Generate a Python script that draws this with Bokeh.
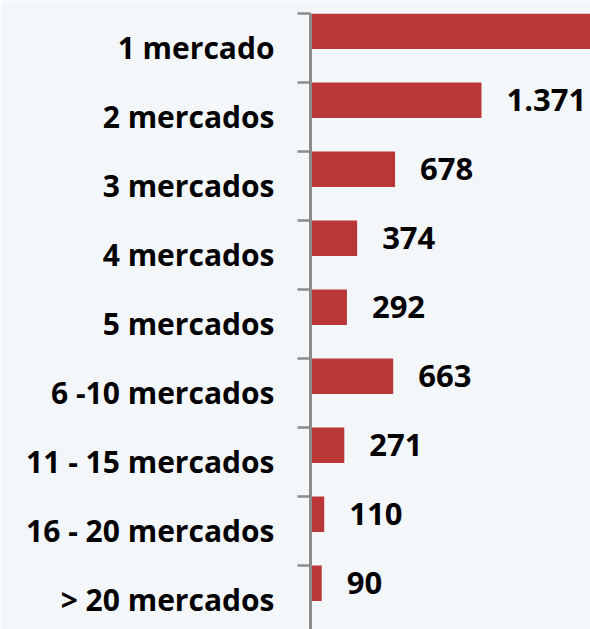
from bokeh.plotting import figure
from bokeh.models import Range1d, FixedTicker, ColumnDataSource
from bokeh.core.properties import value
from bokeh.embed import file_html
from bokeh.resources import INLINE

categories = ["1 mercado", "2 mercados", "3 mercados", "4 mercados", "5 mercados",
              "6 -10 mercados", "11 - 15 mercados", "16 - 20 mercados", "> 20 mercados"]
values = [2600, 1371, 678, 374, 292, 663, 271, 110, 90]

X_END = 2245
BAR_H = 0.514
FONT = "Open Sans"
BG = "#f4f7fa"

pos = list(range(len(categories)))
bar_y = [i - 0.5 + BAR_H / 2 for i in pos]

def fmt(v):
    return f"{v:,}".replace(",", ".")

p = figure(output_backend="svg", toolbar_location=None,
           x_range=Range1d(0, X_END), y_range=Range1d(len(categories) - 0.5 - 0.072, -0.5),
           x_axis_location=None,
           frame_width=280, frame_height=616,
           min_border_left=310, min_border_right=0, min_border_top=13, min_border_bottom=0)
p.background_fill_color = BG
p.border_fill_color = BG
p.outline_line_color = None
p.grid.visible = False

src = ColumnDataSource(dict(y=bar_y, v=values))
p.hbar(y="y", right="v", left=0, height=BAR_H, source=src,
       fill_color="#b93737", line_color=None)

lab_y = [y for y, v in zip(bar_y, values) if v < X_END]
lab_v = [v for v in values if v < X_END]
lsrc = ColumnDataSource(dict(y=lab_y, x=lab_v, t=[fmt(v) for v in lab_v]))
p.text(x="x", y="y", text="t", source=lsrc, x_offset=25,
       text_font=value(FONT), text_font_style="bold", text_font_size="31px",
       text_color="black", text_align="left", text_baseline="middle")

ax = p.yaxis[0]
ax.ticker = FixedTicker(ticks=pos, minor_ticks=[i - 0.5 for i in range(len(categories) + 1)])
ax.major_label_overrides = {i: c for i, c in enumerate(categories)}
ax.major_tick_out = 0
ax.major_tick_in = 0
ax.minor_tick_out = 13
ax.minor_tick_in = 0
ax.minor_tick_line_color = "#8c8c8c"
ax.minor_tick_line_width = 2.5
ax.axis_line_color = "#8c8c8c"
ax.axis_line_width = 3
ax.major_label_standoff = 23
ax.major_label_text_font = FONT
ax.major_label_text_font_style = "bold"
ax.major_label_text_font_size = "30px"
ax.major_label_text_color = "black"

html = file_html(p, INLINE).replace("<body>", f"<body style=\"background:{BG}\">", 1)
open("out.html", "w").write(html)
